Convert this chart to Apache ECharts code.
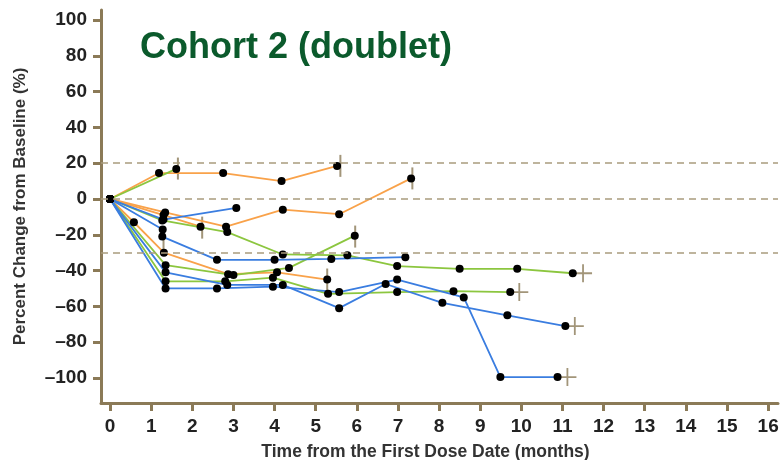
<!DOCTYPE html>
<html>
<head>
<meta charset="utf-8">
<script src="https://cdn.jsdelivr.net/npm/echarts@6/dist/echarts.min.js"></script>
<style>
html, body { margin: 0; padding: 0; background: #fff; }
#chart { width: 782px; height: 460px; }
</style>
</head>
<body>
<div id="chart"></div>
<script>
// axis ticks
const xTicks = [0, 1, 2, 3, 4, 5, 6, 7, 8, 9, 10, 11, 12, 13, 14, 15, 16]
const yTicks = [-100, -80, -60, -40, -20, 0, 20, 40, 60, 80, 100]
const refLines = [20, 0, -30]

// patients, [months, % change]
const orange1 = [[0, 0], [1.19, 14.5], [2.75, 14.5], [4.17, 10], [5.52, 18.5]]
const orange2 = [[0, 0], [1.34, -7.5], [2.82, -15.5], [4.2, -6], [5.57, -8.5], [7.32, 11.5]]
const orange3 = [[0, 0], [1.3, -9], [2.2, -15.5]]
const orange4 = [[0, 0], [0.58, -13], [1.31, -30], [2.87, -42], [4.06, -41], [5.28, -45]]

const green1 = [[0, 0], [1.61, 16.8]]
const green2 = [[0, 0], [1.27, -12], [2.85, -18.5], [4.2, -31], [5.77, -31.5], [6.98, -37.5], [8.5, -39], [9.9, -39], [11.25, -41.5]]
const green3 = [[0, 0], [1.35, -37], [3.0, -42.5], [4.35, -38.5], [5.95, -20.5]]
const green4 = [[0, 0], [1.35, -46], [2.8, -46], [3.96, -44], [5.3, -53], [6.98, -52], [8.35, -51.5], [9.73, -52]]

const blue1 = [[0, 0], [1.3, -11.5], [3.07, -5]]
const blue2 = [[0, 0], [1.28, -17], [1.27, -21], [2.6, -34], [4.0, -34], [5.38, -33.5], [7.18, -32.5]]
const blue3 = [[0, 0], [1.35, -41], [2.85, -48], [4.2, -48], [5.57, -61], [6.7, -47.5], [8.08, -58], [9.66, -65], [11.07, -71]]
const blue4 = [[0, 0], [1.35, -50], [2.6, -50], [3.96, -49], [5.57, -52], [6.98, -45], [8.6, -55], [9.49, -99.5], [10.88, -99.5]]

// event marks
const barMarks = [[1.65, 17], [5.6, 18.5], [7.35, 11.5], [2.24, -16], [5.96, -21], [5.28, -45], [1.3, -22.5]]
const plusMarks = [[11.5, -41.5], [9.95, -52], [11.3, -71], [11.12, -99.5]]

const ORANGE = '#f9a24a'
const GREEN = '#8cc63f'
const BLUE = '#3a7de0'
const AXIS = '#8b7a57'

const myChart = echarts.init(document.getElementById('chart'))

function patient (data, color) {
  return {
    type: 'line',
    data: data,
    symbol: 'circle',
    symbolSize: 8,
    itemStyle: { color: '#000' },
    lineStyle: { color: color, width: 1.8 },
    z: 3,
    silent: true
  }
}

const option = {
  animation: false,
  title: {
    text: 'Cohort 2 (doublet)',
    left: 135,
    top: 25,
    textStyle: {
      color: '#0b5a2c',
      fontSize: 36,
      fontWeight: 'bold',
      fontFamily: 'Liberation Sans'
    }
  },
  grid: {
    top: 10,
    left: 101,
    right: 4,
    bottom: 57,
    outerBoundsMode: 'none'
  },
  xAxis: {
    type: 'value',
    min: -0.22,
    max: 16.24,
    name: 'Time from the First Dose Date (months)',
    nameLocation: 'middle',
    nameGap: 40,
    nameTextStyle: {
      color: '#333',
      fontSize: 17.5,
      fontWeight: 'bold',
      fontFamily: 'Liberation Sans',
      padding: [0, 28, 0, 0]
    },
    splitLine: { show: false },
    axisLine: { onZero: false, lineStyle: { color: AXIS, width: 3 } },
    axisTick: { customValues: xTicks, length: 8, lineStyle: { color: AXIS, width: 3 } },
    axisLabel: {
      customValues: xTicks,
      margin: 14,
      color: '#222',
      fontSize: 19,
      fontWeight: 'bold',
      fontFamily: 'Liberation Sans'
    }
  },
  yAxis: {
    type: 'value',
    min: -114,
    max: 105.6,
    name: 'Percent Change from Baseline (%)',
    nameLocation: 'middle',
    nameGap: 72,
    nameTextStyle: {
      color: '#333',
      fontSize: 17,
      fontWeight: 'bold',
      fontFamily: 'Liberation Sans'
    },
    splitLine: { show: false },
    axisLine: { show: true, onZero: false, lineStyle: { color: AXIS, width: 3 } },
    axisTick: { show: true, customValues: yTicks, length: 8, lineStyle: { color: AXIS, width: 3 } },
    axisLabel: {
      customValues: yTicks,
      margin: 14,
      color: '#222',
      fontSize: 19,
      fontWeight: 'bold',
      fontFamily: 'Liberation Sans',
      formatter: function (v) { return String(v).replace('-', '\u2013') }
    }
  },
  series: [
    {
      type: 'line',
      data: [],
      markLine: {
        silent: true,
        symbol: 'none',
        label: { show: false },
        lineStyle: { color: '#a99c7e', type: [7, 5], width: 1.5 },
        data: refLines.map(v => ({ yAxis: v }))
      }
    },
    patient(orange1, ORANGE),
    patient(orange2, ORANGE),
    patient(orange3, ORANGE),
    patient(orange4, ORANGE),
    patient(green1, GREEN),
    patient(green2, GREEN),
    patient(green3, GREEN),
    patient(green4, GREEN),
    patient(blue1, BLUE),
    patient(blue2, BLUE),
    patient(blue3, BLUE),
    patient(blue4, BLUE),
    {
      type: 'scatter',
      data: barMarks,
      symbol: 'path://M0,0 L2,0 L2,24 L0,24 Z',
      symbolSize: [2, 22],
      itemStyle: { color: AXIS },
      z: 2,
      silent: true
    },
    {
      type: 'scatter',
      data: plusMarks,
      symbol: 'path://M9,0 L11,0 L11,9 L20,9 L20,11 L11,11 L11,20 L9,20 L9,11 L0,11 L0,9 L9,9 Z',
      symbolSize: 18,
      itemStyle: { color: AXIS },
      z: 2,
      silent: true
    }
  ]
}

myChart.setOption(option)
</script>
</body>
</html>
